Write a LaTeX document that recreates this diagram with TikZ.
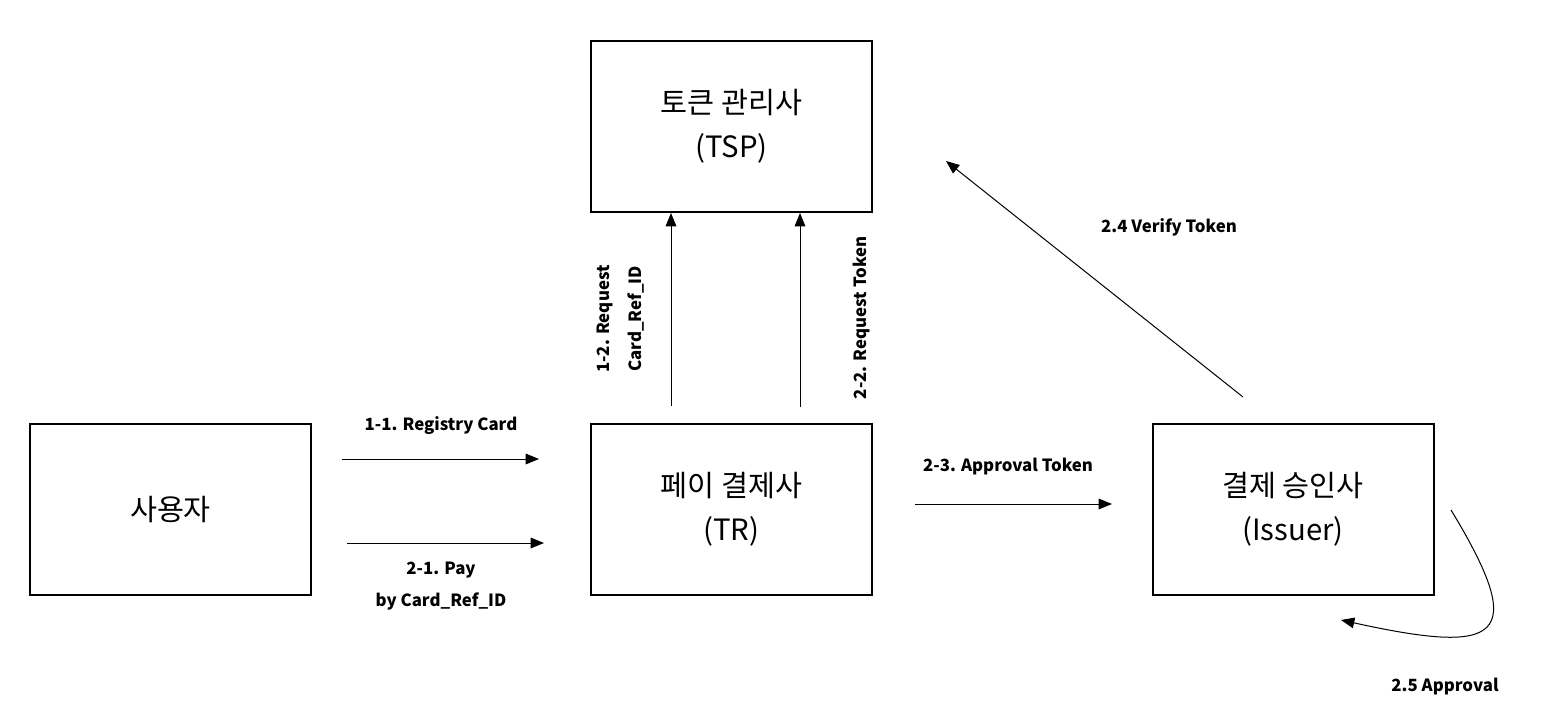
\documentclass[tikz,border=0pt]{standalone}
\usepackage{fontspec}
\setmainfont{Noto Sans CJK KR}
\usetikzlibrary{arrows.meta}

\begin{document}
\begin{tikzpicture}[x=0.75pt,y=0.75pt,yscale=-1,xscale=1,
        party/.style={draw, line width=1.5pt, minimum width=210.75pt, minimum height=128.25pt, align=center, font=\fontsize{22}{33}\selectfont},
        msg/.style={inner sep=0.75pt, align=center, font=\bfseries\fontsize{12.6}{24}\selectfont},
        flow/.style={line width=0.75pt, -{Triangle[length=10pt,width=8pt]}}]
        \useasboundingbox (0,0) rectangle (1566,710);

        \node [party] (tsp) at (731.5,126.5) {토큰 관리사\\(TSP)};
        \node [party] (user) at (170.5,509.5) {사용자};
        \node [party] (tr) at (731.5,509.5) {페이 결제사\\(TR)};
        \node [party] (issuer) at (1293,509.5) {결제 승인사\\(Issuer)};

        \coordinate (regS) at (342,459);
        \coordinate (regE) at (539,459);
        \coordinate (payS) at (347,543);
        \coordinate (payE) at (544,543);
        \coordinate (refS) at (671,406);
        \coordinate (tokS) at (800,407);
        \coordinate (apprS) at (915,504);
        \coordinate (apprE) at (1112,504);
        \coordinate (verS) at (1243,397);
        \coordinate (verE) at (946,161);
        \coordinate (okS) at (1451,510);
        \coordinate (okE) at (1341,620);

        \draw [flow] (regS) -- (regE);
        \draw [flow] (payS) -- (payE);
        \draw [flow] (refS) -- (refS |- tsp.south);
        \draw [flow] (tokS) -- (tokS |- tsp.south);
        \draw [flow] (apprS) -- (apprE);
        \draw [flow] (verS) -- (verE);
        \draw [flow] (okS) .. controls (1530,640) and (1500,655) .. (okE);

        \node [msg] (regLbl) at (441,426) {1-1. Registry Card};
        \node [msg] (payLbl) at (441,586) {2-1. Pay\\by Card\_Ref\_ID};
        \node [msg, rotate=90] (refLbl) at (621,319) {1-2. Request\\Card\_Ref\_ID};
        \node [msg, rotate=90] (tokLbl) at (862,318) {2-2. Request Token};
        \node [msg] (apprLbl) at (1008,467) {2-3. Approval Token};
        \node [msg] (verLbl) at (1169,227) {2.4 Verify Token};
        \node [msg] (okLbl) at (1445,687) {2.5 Approval};
    \end{tikzpicture}
\end{document}
